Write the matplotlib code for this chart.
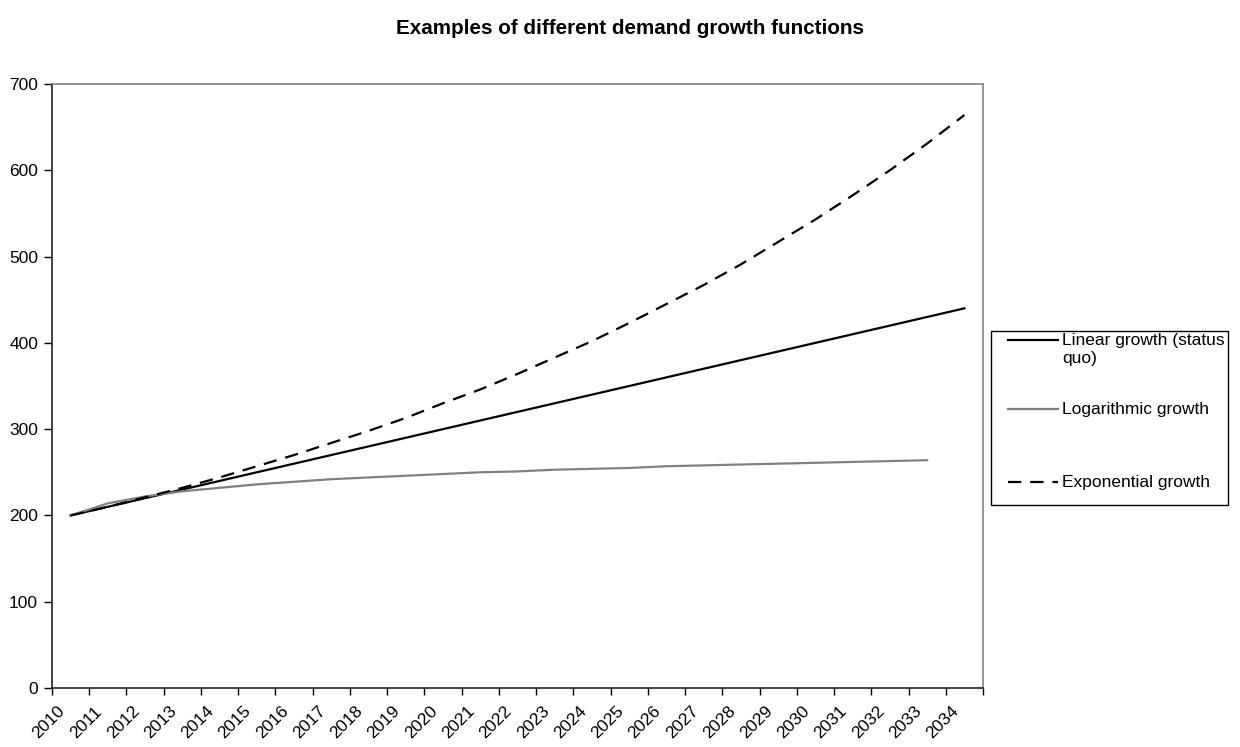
import matplotlib.pyplot as plt
from matplotlib.lines import Line2D
from matplotlib.patches import Rectangle
from matplotlib.ticker import FixedLocator, NullFormatter
from matplotlib.transforms import ScaledTranslation

plt.rcParams['font.family'] = ['Liberation Sans', 'DejaVu Sans']

# Data
years = [str(y) for y in range(2010, 2035)]
linear = [200, 210, 220, 230, 240, 250, 260, 270, 280, 290, 300, 310, 320,
          330, 340, 350, 360, 370, 380, 390, 400, 410, 420, 430, 440]
logarithmic = [200, 214, 222, 228, 232, 236, 239, 242, 244, 246, 248, 250,
               251, 253, 254, 255, 257, 258, 259, 260, 261, 262, 263, 264]
exponential = [200, 210, 221, 232, 244, 257, 270, 284, 298, 313, 330, 346,
               364, 383, 402, 423, 445, 467, 491, 517, 543, 571, 600, 631, 664]
series_names = ['Linear growth (status\nquo)', 'Logarithmic growth', 'Exponential growth']

W, H = 1240, 747
fig = plt.figure(figsize=(W / 100, H / 100), dpi=100)
ax = fig.add_axes([52 / W, 1 - 688 / H, 931 / W, 604 / H])

styles = [dict(color='black', lw=1.6),
          dict(color='#808080', lw=1.6),
          dict(color='black', lw=1.6, dashes=(6, 4))]

for vals, st in zip([linear, logarithmic, exponential], styles):
    ax.plot(list(range(len(vals))), vals, **st)

ax.set_xlim(-0.5, len(years) - 0.5)
ax.set_ylim(0, 700)
ax.set_yticks(range(0, 701, 100))

# category axis: ticks between categories, labels at centres
ax.xaxis.set_major_locator(FixedLocator([i - 0.5 for i in range(len(years) + 1)]))
ax.xaxis.set_major_formatter(NullFormatter())
ax.xaxis.set_minor_locator(FixedLocator(list(range(len(years)))))
ax.set_xticklabels(years, minor=True, rotation=45, ha='right', va='center',
                   rotation_mode='anchor', fontsize=12.5)
ax.tick_params(axis='x', which='minor', length=0, pad=15)
ax.tick_params(axis='x', which='major', direction='out', length=5, width=1)
ax.tick_params(axis='y', direction='out', length=6, width=1, labelsize=12.5, pad=4)

# nudge the slanted year labels a little to the left, like Excel does
shift = ScaledTranslation(-8 / 100, 0, fig.dpi_scale_trans)
for lab in ax.get_xticklabels(minor=True):
    lab.set_transform(lab.get_transform() + shift)

for s in ['top', 'right']:
    ax.spines[s].set_color('#808080')
    ax.spines[s].set_linewidth(1.2)
for s in ['left', 'bottom']:
    ax.spines[s].set_color('#222222')
    ax.spines[s].set_linewidth(1.2)

fig.text(630 / W, 1 - 28 / H, 'Examples of different demand growth functions',
         ha='center', va='center', fontsize=14.9, fontweight='bold')

# legend box drawn in figure pixels, Excel style
def fx(px):
    return px / W

def fy(py):
    return 1 - py / H

fig.add_artist(Rectangle((fx(991), fy(505)), fx(1228) - fx(991), fy(331) - fy(505),
                         transform=fig.transFigure, fill=False,
                         edgecolor='black', lw=1.0))
entry_y = [340, 409, 482]
for name, st, py in zip(series_names, styles, entry_y):
    fig.add_artist(Line2D([fx(1008), fx(1058)], [fy(py), fy(py)],
                          transform=fig.transFigure, **st))
    fig.text(fx(1062), fy(py - 7), name, ha='left', va='top',
             fontsize=12.5, linespacing=1.25)

fig.savefig('out.png', dpi=100)
